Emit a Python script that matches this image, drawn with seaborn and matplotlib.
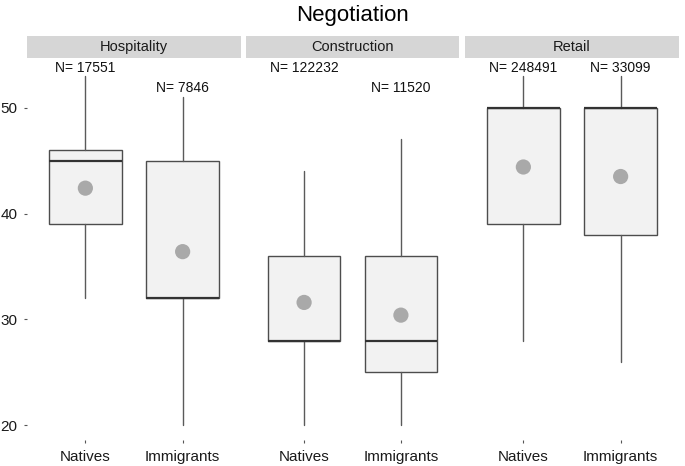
import matplotlib
matplotlib.use("Agg")
import matplotlib.pyplot as plt
import seaborn as sns
import pandas as pd

sns.set_theme(style="white")
plt.rcParams['font.family'] = ['Liberation Sans', 'DejaVu Sans']

sectors = ["Hospitality", "Construction", "Retail"]
groups = ["Natives", "Immigrants"]

# per sector: [Natives, Immigrants]
whislo = {"Hospitality": [32, 20], "Construction": [20, 20], "Retail": [28, 26]}
q1 = {"Hospitality": [39, 32], "Construction": [28, 25], "Retail": [39, 38]}
med = {"Hospitality": [45, 32], "Construction": [28, 28], "Retail": [50, 50]}
q3 = {"Hospitality": [46, 45], "Construction": [36, 36], "Retail": [50, 50]}
whishi = {"Hospitality": [53, 51], "Construction": [44, 47], "Retail": [53, 53]}
means = {"Hospitality": [42.4, 36.4], "Construction": [31.6, 30.4], "Retail": [44.4, 43.5]}
counts = {"Hospitality": [17551, 7846], "Construction": [122232, 11520], "Retail": [248491, 33099]}
label_y = {"Hospitality": [53.8, 51.9], "Construction": [53.8, 51.9], "Retail": [53.8, 53.8]}

W, H = 685, 466
fig = plt.figure(figsize=(W / 100, H / 100), dpi=100)

panel_px = [(27, 241), (246, 459), (465, 679)]
top_px, bot_px = 58, 440
strip_top = 36

box_edge = "#4d4d4d"
for i, sec in enumerate(sectors):
    x0, x1 = panel_px[i]
    ax = fig.add_axes([x0 / W, 1 - bot_px / H, (x1 - x0) / W, (bot_px - top_px) / H])
    stats = []
    for j, g in enumerate(groups):
        stats.append(dict(label=g, whislo=whislo[sec][j], q1=q1[sec][j], med=med[sec][j],
                          q3=q3[sec][j], whishi=whishi[sec][j], fliers=[]))
    ax.bxp(stats, positions=[0, 1], widths=0.75, patch_artist=True, showcaps=False,
           boxprops=dict(facecolor="#f2f2f2", edgecolor=box_edge, linewidth=1.0),
           whiskerprops=dict(color="#5a5a5a", linewidth=1.0),
           medianprops=dict(color="#333333", linewidth=1.6))
    dfm = pd.DataFrame({"x": [0, 1], "y": means[sec]})
    sns.scatterplot(data=dfm, x="x", y="y", ax=ax, s=120, color="#a9a9a9",
                    edgecolor="none", zorder=5)
    for j in range(2):
        ax.text(j, label_y[sec][j], f"N= {counts[sec][j]}", ha="center", va="center",
                fontsize=10, color="#111111")
    ax.set_xlim(-0.6, 1.6)
    ax.set_ylim(18.6, 54.7)
    ax.set_xticks([0, 1])
    ax.set_xticklabels(groups, fontsize=11, color="#1a1a1a")
    ax.set_xlabel("")
    ax.set_ylabel("")
    if i == 0:
        ax.set_yticks([20, 30, 40, 50])
        ax.set_yticklabels(["20", "30", "40", "50"], fontsize=11, color="#1a1a1a")
    else:
        ax.set_yticks([])
    ax.tick_params(axis="both", length=2, width=0.8, color="#555555", pad=5, direction="out",
                   left=(i == 0), bottom=True)
    for s in ax.spines.values():
        s.set_visible(False)
    ax.set_facecolor("white")
    # strip
    sax = fig.add_axes([x0 / W, 1 - top_px / H, (x1 - x0) / W, (top_px - strip_top) / H])
    sax.set_facecolor("#d6d6d6")
    sax.set_xticks([])
    sax.set_yticks([])
    for s in sax.spines.values():
        s.set_visible(False)
    sax.text(0.5, 0.5, sec, ha="center", va="center", fontsize=10.5, color="#1a1a1a",
             transform=sax.transAxes)

fig.text(353 / W, 1 - 16 / H, "Negotiation", ha="center", va="center", fontsize=16,
         color="#000000")

fig.savefig("out.png", dpi=100)
